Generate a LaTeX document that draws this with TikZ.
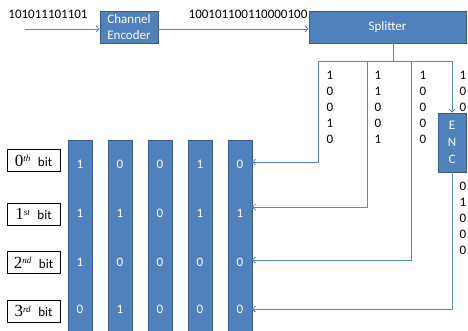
\documentclass[tikz,border=0pt]{standalone}
\usepackage{fontspec}
\setmainfont{Carlito}
\newfontfamily\serifnum{Liberation Serif}
\usetikzlibrary{arrows.meta}
\definecolor{boxfill}{RGB}{79,129,189}
\definecolor{boxdraw}{RGB}{56,93,138}
\definecolor{lncol}{RGB}{90,135,195}
\tikzset{
  txt/.style={font=\fontsize{13}{16}\selectfont, inner sep=0pt, align=center},
  bluebox/.style={draw=boxdraw, fill=boxfill, line width=0.8pt, text=white, font=\fontsize{13}{16}\selectfont, align=center, inner sep=0pt},
  bar/.style={draw=boxdraw, fill=boxfill, line width=0.8pt, minimum width=24pt, minimum height=192pt, inner sep=0pt},
  bitv/.style={text=white, font=\fontsize{13}{16}\selectfont, inner sep=0pt},
  lbl/.style={draw=black, line width=1pt, fill=white, minimum width=53pt, minimum height=22pt, inner sep=0pt, font=\fontsize{13}{16}\selectfont},
  ln/.style={draw=lncol, line width=0.8pt},
  arr/.style={ln, -{Straight Barb[length=3pt,width=6pt]}},
}
\newcommand{\ordlbl}[2]{{\serifnum\fontsize{17}{16}\selectfont #1}\textsuperscript{\serifnum\itshape #2}\hspace{7pt}bit}
\begin{document}
\begin{tikzpicture}[x=1pt,y=-1pt]
\useasboundingbox (0,0) rectangle (468,330);
\clip (0,0) rectangle (468,330);
% top row
\node[txt] (inbits) at (48,14) {101011101101};
\coordinate (instart) at (25,29);
\node[bluebox, minimum width=58pt, minimum height=32pt] (enc) at (129,27) {Channel\\Encoder};
\node[txt] (outbits) at (248,14) {100101100110000100};
\node[bluebox, minimum width=157pt, minimum height=32pt] (split) at (387.5,27) {Splitter};
\draw[arr] (instart) -- (instart -| enc.west);
\draw[arr] (enc.east |- instart) -- (instart -| split.west);
% branches
\coordinate (j) at (393,61);
\coordinate (a0) at (318,61);
\coordinate (a1) at (367,61);
\coordinate (a2) at (411,61);
\coordinate (a3) at (452,61);
\node[bluebox, minimum width=28pt, minimum height=59pt] (encb) at (452,142.5) {E\\[1pt]N\\[1pt]C};
% bars
\foreach \i/\x in {1/80,2/120,3/160,4/200,5/240}{
  \node[bar] (b\i) at (\x,236) {};
}
\coordinate (t0) at (252,162);
\coordinate (t1) at (252,207);
\coordinate (t2) at (252,260);
\coordinate (t3) at (252,309);
\draw[ln] (j |- split.south) -- (j);
\draw[ln] (a0) -- (a3);
\draw[arr] (a0) |- (t0);
\draw[arr] (a1) |- (t1);
\draw[arr] (a2) |- (t2);
\draw[arr] (a3) -- (encb.north);
\draw[arr] (encb.south) |- (t3);
% column texts
\node[txt] (c1) at (330,107.5) {1\\0\\0\\1\\0};
\node[txt] (c2) at (378,107.5) {1\\1\\0\\0\\1};
\node[txt] (c3) at (423,107.5) {1\\0\\0\\0\\0};
\node[txt] (c4) at (463,91.5) {1\\0\\0};
\node[txt] (c5) at (463,218.5) {0\\1\\0\\0\\0};
% bits in bars
\foreach \r/\y/\vals in {0/164/{1,0,0,1,0},1/213/{1,1,0,1,1},2/262/{1,0,0,0,0},3/309/{0,1,0,0,0}}{
  \foreach \v [count=\c] in \vals {
    \node[bitv] (v\r\c) at (40+40*\c,\y) {\v};
  }
}
% labels
\node[lbl] (l0) at (33.5,160.5) {\ordlbl{0}{th}};
\node[lbl] (l1) at (33.5,214) {\ordlbl{1}{st}};
\node[lbl] (l2) at (33.5,262.5) {\ordlbl{2}{nd}};
\node[lbl] (l3) at (33.5,311) {\ordlbl{3}{rd}};
\end{tikzpicture}
\end{document}
